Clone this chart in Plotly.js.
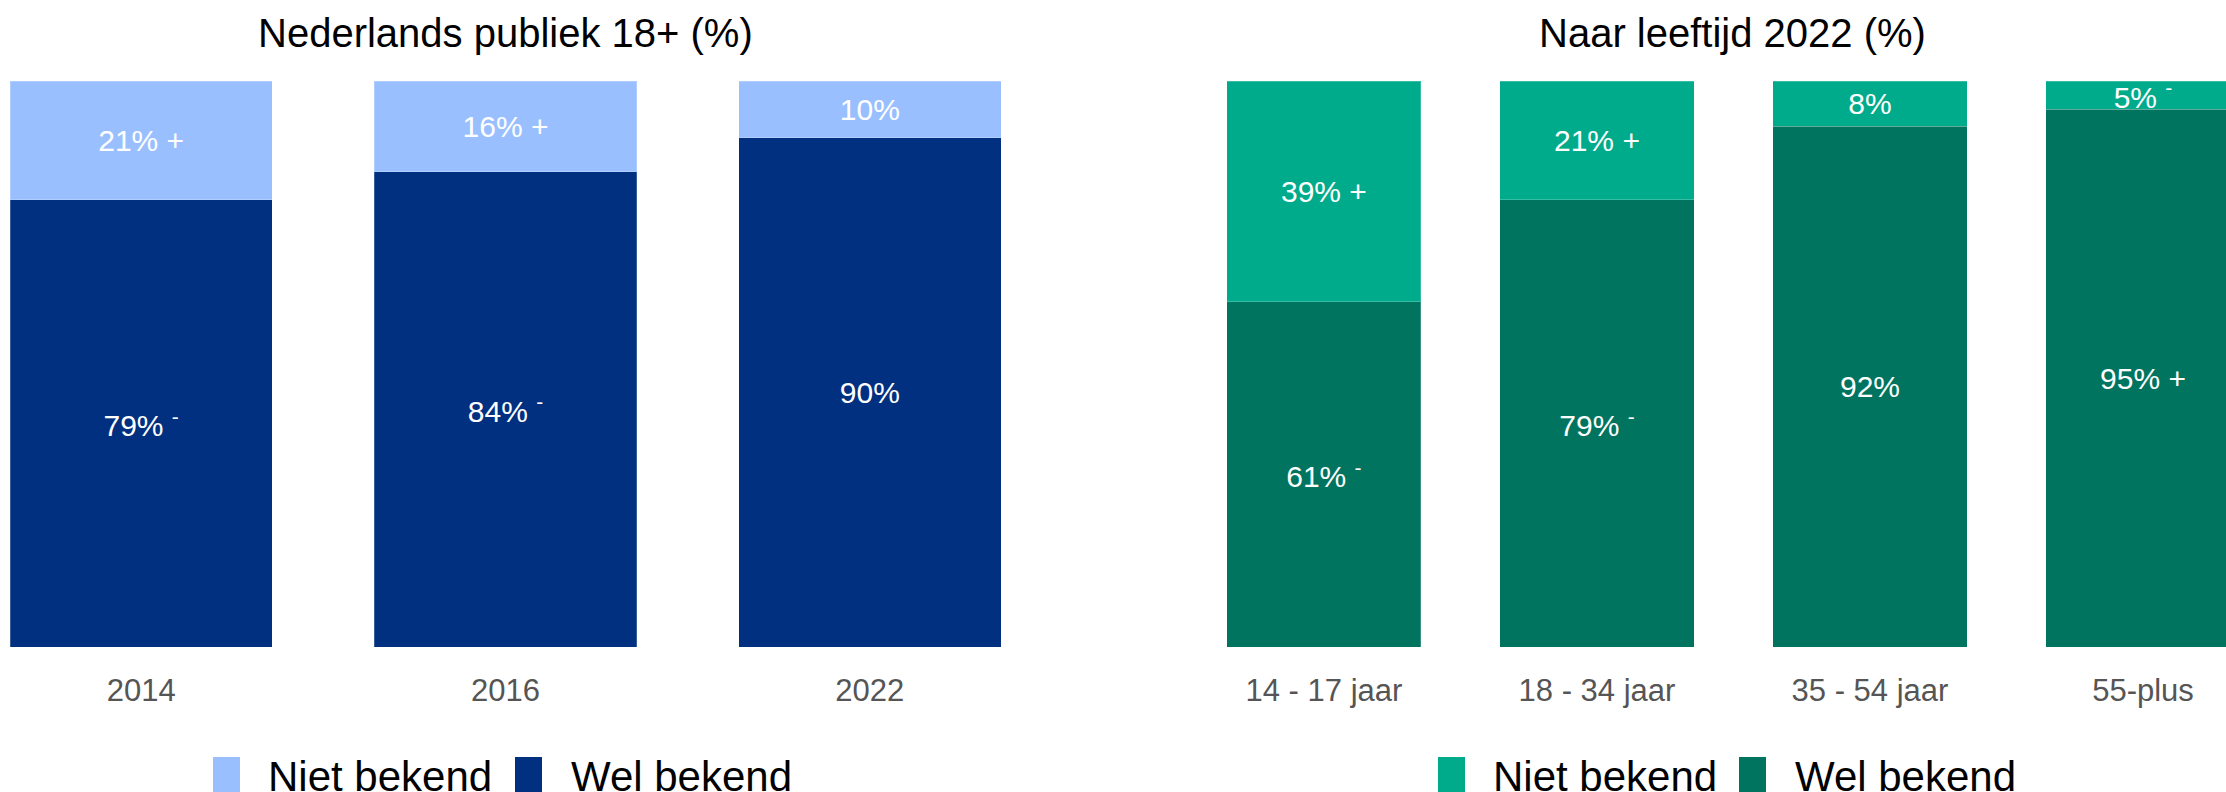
<!DOCTYPE html>
<html>
<head>
<meta charset="utf-8">
<script src="https://cdn.plot.ly/plotly-3.0.1.min.js"></script>
<style>html,body{margin:0;padding:0;background:#fff;overflow:hidden;}</style>
</head>
<body>
<div id="chart" style="width:2226px;height:792px;"></div>
<script>
// ---- data ----
const leftTitle = 'Nederlands publiek 18+ (%)';
const rightTitle = 'Naar leeftijd 2022 (%)';
const seriesNames = ['Niet bekend', 'Wel bekend'];

const leftCategories = ['2014', '2016', '2022'];
const leftNiet = [21, 16, 10];
const leftWel = [79, 84, 90];
const leftNietSig = ['+', '+', ''];
const leftWelSig = ['-', '-', ''];

const rightCategories = ['14 - 17 jaar', '18 - 34 jaar', '35 - 54 jaar', '55-plus'];
const rightNiet = [39, 21, 8, 5];
const rightWel = [61, 79, 92, 95];
const rightNietSig = ['+', '+', '', '-'];
const rightWelSig = ['-', '-', '', '+'];

// ---- styling ----
const W = 2226, H = 792;
const colors = {
  leftNiet: '#99BFFF', leftWel: '#00307F',
  rightNiet: '#00AB8C', rightWel: '#00745F'
};
const px = v => v / W;
const py = v => 1 - v / H;

function lbl(vals, sig) {
  return vals.map((v, i) => {
    let s = v + '%';
    if (sig[i] === '+') s += ' +';
    else if (sig[i] === '-') s += ' <sup>-</sup>';
    return s;
  });
}

function bar(x, y, sig, color, name, xa, ya, width) {
  return {
    type: 'bar', x: x, y: y, name: name,
    xaxis: xa, yaxis: ya, width: width,
    marker: {color: color, line: {width: 1, color: 'rgba(255,255,255,0.22)'}},
    text: lbl(y, sig), textposition: 'inside', insidetextanchor: 'middle',
    textangle: 0, constraintext: 'none',
    textfont: {family: 'Liberation Sans, Arial, sans-serif', size: 30, color: '#ffffff'},
    hoverinfo: 'skip', showlegend: false
  };
}

const data = [
  bar(leftCategories, leftWel, leftWelSig, colors.leftWel, seriesNames[1], 'x', 'y', 0.72),
  bar(leftCategories, leftNiet, leftNietSig, colors.leftNiet, seriesNames[0], 'x', 'y', 0.72),
  bar(rightCategories, rightWel, rightWelSig, colors.rightWel, seriesNames[1], 'x2', 'y2', 0.711),
  bar(rightCategories, rightNiet, rightNietSig, colors.rightNiet, seriesNames[0], 'x2', 'y2', 0.711)
];

const axisFont = {family: 'Liberation Sans, Arial, sans-serif', size: 31, color: '#555555'};
const xBase = {type: 'category', showgrid: false, zeroline: false, showline: false,
  ticks: '', tickfont: axisFont, fixedrange: true, ticklabelstandoff: 22};
const yBase = {range: [0, 100], showgrid: false, zeroline: false, showline: false,
  showticklabels: false, ticks: '', fixedrange: true};

const legendFont = {family: 'Liberation Sans, Arial, sans-serif', size: 42, color: '#000000'};
const titleFont = {family: 'Liberation Sans, Arial, sans-serif', size: 40, color: '#000000'};

const shapes = [];
const annotations = [
  {text: leftTitle, x: px(505), y: py(33), xref: 'paper', yref: 'paper',
   xanchor: 'center', yanchor: 'middle', showarrow: false, font: titleFont},
  {text: rightTitle, x: px(1732), y: py(33), xref: 'paper', yref: 'paper',
   xanchor: 'center', yanchor: 'middle', showarrow: false, font: titleFont}
];
// manual legends (square + label)
const legendItems = [
  {sq: 213, tx: 266, name: seriesNames[0], color: colors.leftNiet},
  {sq: 515, tx: 569, name: seriesNames[1], color: colors.leftWel},
  {sq: 1438, tx: 1491, name: seriesNames[0], color: colors.rightNiet},
  {sq: 1739, tx: 1793, name: seriesNames[1], color: colors.rightWel}
];
legendItems.forEach(it => {
  shapes.push({type: 'rect', xref: 'paper', yref: 'paper',
    x0: px(it.sq), x1: px(it.sq + 27), y0: py(757), y1: py(800),
    fillcolor: it.color, line: {width: 0}});
  annotations.push({text: it.name, x: px(it.tx), y: py(776), xref: 'paper', yref: 'paper',
    xanchor: 'left', yanchor: 'middle', showarrow: false, font: legendFont});
});

const layout = {
  width: W, height: H,
  margin: {l: 0, r: 0, t: 0, b: 0},
  paper_bgcolor: '#ffffff', plot_bgcolor: '#ffffff',
  barmode: 'stack', showlegend: false,
  xaxis: Object.assign({}, xBase, {domain: [px(10), px(1001)], range: [-0.36, 2.36], anchor: 'y'}),
  yaxis: Object.assign({}, yBase, {domain: [py(647), py(81)], anchor: 'x'}),
  xaxis2: Object.assign({}, xBase, {domain: [px(1227), 1], range: [-0.355, 3.304], anchor: 'y2'}),
  yaxis2: Object.assign({}, yBase, {domain: [py(647), py(81)], anchor: 'x2'}),
  shapes: shapes, annotations: annotations
};

Plotly.newPlot('chart', data, layout, {displayModeBar: false, staticPlot: true});
</script>
</body>
</html>
